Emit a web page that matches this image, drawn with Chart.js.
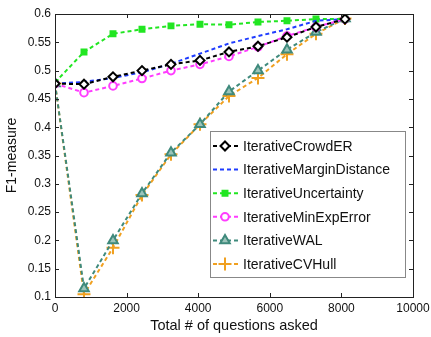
<!DOCTYPE html>
<html>
<head>
<meta charset="utf-8">
<script src="https://cdn.jsdelivr.net/npm/chart.js@4.4.1/dist/chart.umd.min.js"></script>
<style>
  html, body { margin: 0; padding: 0; background: #fff; }
  #wrap { width: 431px; height: 337px; position: relative; }
</style>
</head>
<body>
<div id="wrap"><canvas id="c"></canvas></div>
<script>
// questions asked (x) and F1 per method
var questions = [0, 810, 1620, 2430, 3240, 4050, 4860, 5670, 6480, 7290, 8100];
var crowdER     = [0.477, 0.476, 0.489, 0.500, 0.511, 0.518, 0.533, 0.543, 0.559, 0.577, 0.591];
var marginDist  = [0.477, 0.480, 0.487, 0.497, 0.512, 0.530, 0.548, 0.561, 0.573, 0.588, 0.591];
var uncertainty = [0.479, 0.533, 0.565, 0.573, 0.579, 0.582, 0.581, 0.586, 0.588, 0.591, 0.591];
var minExpError = [0.477, 0.461, 0.473, 0.486, 0.500, 0.511, 0.525, 0.542, 0.561, 0.577, 0.591];
var wal         = [0.477, 0.115, 0.200, 0.283, 0.355, 0.405, 0.463, 0.500, 0.537, 0.568, 0.592];
var cvHull      = [0.477, 0.105, 0.187, 0.280, 0.352, 0.405, 0.455, 0.487, 0.529, 0.565, 0.592];

var xTicks = [0, 2000, 4000, 6000, 8000, 10000];
var yTicks = [0.1, 0.15, 0.2, 0.25, 0.3, 0.35, 0.4, 0.45, 0.5, 0.55, 0.6];

function pts(ys) {
  return ys.map(function(y, i) { return {x: questions[i], y: y}; });
}

function series(label, ys, color, style, fill, radius) {
  return {
    label: label,
    data: pts(ys),
    borderColor: color,
    borderWidth: 2,
    borderDash: [4, 3],
    pointStyle: style,
    pointRadius: radius,
    pointBorderColor: color,
    pointBackgroundColor: fill,
    pointBorderWidth: 2,
    tension: 0
  };
}

var datasets = [
  series("IterativeCrowdER", crowdER, "#000000", "rectRot", "#ffffff", 4.5),
  series("IterativeMarginDistance", marginDist, "#1f3cff", false, "#1f3cff", 0),
  series("IterativeUncertainty", uncertainty, "#22e622", "rect", "#22e622", 3.5),
  series("IterativeMinExpError", minExpError, "#ff3cff", "circle", "#ffffff", 3.8),
  series("IterativeWAL", wal, "#3f8a7c", "triangle", "#9cc4ba", 5.5),
  series("IterativeCVHull", cvHull, "#f0a020", "cross", "#f0a020", 6.5)
];

var FONT = "'Liberation Sans', Arial, sans-serif";

// box frame + inward ticks on all four sides, MATLAB style
var framePlugin = {
  id: "frame",
  afterDatasetsDraw: function(chart) {
    var ctx = chart.ctx, a = chart.chartArea;
    var xs = chart.scales.x, ys = chart.scales.y;
    ctx.save();
    ctx.strokeStyle = "#222";
    ctx.lineWidth = 1;
    ctx.beginPath();
    xTicks.forEach(function(v) {
      var px = Math.round(xs.getPixelForValue(v)) + 0.5;
      ctx.moveTo(px, a.bottom); ctx.lineTo(px, a.bottom - 4);
      ctx.moveTo(px, a.top); ctx.lineTo(px, a.top + 4);
    });
    yTicks.forEach(function(v) {
      var py = Math.round(ys.getPixelForValue(v)) + 0.5;
      ctx.moveTo(a.left, py); ctx.lineTo(a.left + 4, py);
      ctx.moveTo(a.right, py); ctx.lineTo(a.right - 4, py);
    });
    ctx.stroke();
    ctx.strokeRect(Math.round(a.left) + 0.5, Math.round(a.top) + 0.5,
      Math.round(a.right - a.left), Math.round(a.bottom - a.top));
    ctx.restore();
  }
};

// legend drawn inside the axes, lower right
var insideLegend = {
  id: "insideLegend",
  afterDraw: function(chart) {
    var ctx = chart.ctx, a = chart.chartArea;
    var w = 195, rowH = 23.6;
    var x0 = a.right - 203, y0 = a.top + 117;
    var h = rowH * datasets.length + 4;
    ctx.save();
    ctx.fillStyle = "#fff";
    ctx.fillRect(x0, y0, w, h);
    ctx.strokeStyle = "#888";
    ctx.lineWidth = 1;
    ctx.strokeRect(Math.round(x0) + 0.5, Math.round(y0) + 0.5, w, Math.round(h));
    chart.data.datasets.forEach(function(ds, i) {
      var cy = y0 + 15 + i * rowH;
      ctx.strokeStyle = ds.borderColor;
      ctx.lineWidth = 2;
      ctx.setLineDash([4, 3]);
      ctx.beginPath();
      ctx.moveTo(x0 + 3, cy); ctx.lineTo(x0 + 29, cy);
      ctx.stroke();
      ctx.setLineDash([]);
      if (ds.pointStyle) {
        ctx.fillStyle = ds.pointBackgroundColor;
        ctx.strokeStyle = ds.pointBorderColor;
        ctx.lineWidth = 2;
        Chart.helpers.drawPoint(ctx, {pointStyle: ds.pointStyle, radius: ds.pointRadius, borderWidth: 2}, x0 + 15, cy);
      }
      ctx.fillStyle = "#111";
      ctx.font = "14px " + FONT;
      ctx.textBaseline = "middle";
      ctx.fillText(ds.label, x0 + 33, cy + 1);
    });
    ctx.restore();
  }
};

new Chart(document.getElementById("c"), {
  type: "line",
  data: {datasets: datasets},
  options: {
    responsive: true,
    maintainAspectRatio: false,
    animation: false,
    layout: {padding: {left: 4, right: 18, top: 14, bottom: 2}},
    plugins: {legend: {display: false}, tooltip: {enabled: false}},
    scales: {
      x: {
        type: "linear",
        min: 0, max: 10000,
        afterBuildTicks: function(s) { s.ticks = xTicks.map(function(v) { return {value: v}; }); },
        afterFit: function(s) { s.height = 38; s.paddingLeft = 0; s.paddingRight = 0; },
        grid: {display: false, drawTicks: false},
        border: {display: false},
        ticks: {
          color: "#111", padding: 4,
          font: {family: FONT, size: 12},
          maxRotation: 0,
          callback: function(v) { return String(v); }
        },
        title: {display: true, text: "Total # of questions asked", color: "#111",
          font: {family: FONT, size: 14.5}, padding: {top: 1, bottom: 0}}
      },
      y: {
        type: "linear",
        min: 0.1, max: 0.6,
        afterBuildTicks: function(s) { s.ticks = yTicks.map(function(v) { return {value: v}; }); },
        afterFit: function(s) { s.width = 51; },
        grid: {display: false, drawTicks: false},
        border: {display: false},
        ticks: {
          color: "#111", padding: 4,
          font: {family: FONT, size: 12},
          callback: function(v) { return String(+v.toFixed(2)); }
        },
        title: {display: true, text: "F1-measure", color: "#111",
          font: {family: FONT, size: 14}, padding: {top: 0, bottom: 2}}
      }
    }
  },
  plugins: [framePlugin, insideLegend]
});
</script>
</body>
</html>
